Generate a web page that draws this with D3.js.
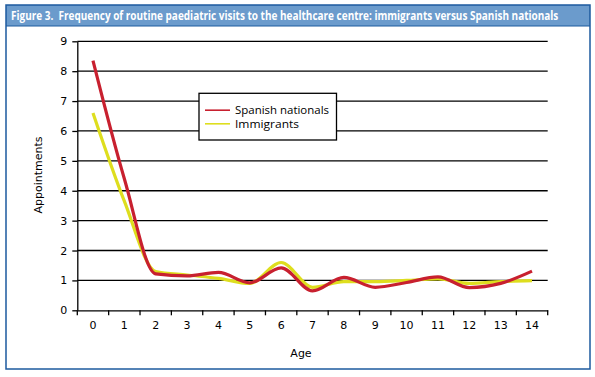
<!DOCTYPE html>
<html><head><meta charset="utf-8">
<script src="https://cdn.jsdelivr.net/npm/d3@7"></script>
<style>body{margin:0;background:#fff}svg{display:block}</style>
</head><body>
<svg id="c" width="595" height="377"></svg>
<script>
const ages = [0,1,2,3,4,5,6,7,8,9,10,11,12,13,14];
const spanish = [8.35,4.4,1.22,1.15,1.27,0.92,1.42,0.65,1.1,0.77,0.93,1.12,0.76,0.9,1.31];
const immigrants = [6.6,3.65,1.3,1.18,1.07,0.9,1.6,0.77,0.96,0.96,1.0,1.05,0.9,0.96,0.99];
const yTicks = [0,1,2,3,4,5,6,7,8,9];
const seriesNames = ["Spanish nationals","Immigrants"];
const seriesColors = ["#c8202f","#dede1e"];
const title = "Figure 3.\u00A0 Frequency of routine paediatric visits to the healthcare centre: immigrants versus Spanish nationals";

const svg = d3.select("#c");
const frame = "#1d5a9e";
// frame
svg.append("rect").attr("x",6).attr("y",5).attr("width",584).attr("height",21).attr("fill","#6b9bcc");
svg.append("rect").attr("x",6).attr("y",5).attr("width",584).attr("height",364)
  .attr("fill","none").attr("stroke",frame).attr("stroke-width",1.5);
svg.append("line").attr("x1",6).attr("x2",590).attr("y1",26).attr("y2",26).attr("stroke",frame).attr("stroke-width",1);
const tt = svg.append("text").attr("x",0).attr("y",0).attr("fill","#fff")
  .attr("font-family","Open Sans, sans-serif").attr("font-weight","bold").attr("font-size",12).text(title);
const natW = tt.node().getComputedTextLength();
tt.attr("transform",`translate(11,19.8) scale(${548/natW},1)`);

const x = d3.scaleBand().domain(ages).range([77.3,547.7]);
const y = d3.scaleLinear().domain([0,9]).range([310.3,41.3]);

// gridlines
svg.append("g").selectAll("line").data(yTicks.slice(1)).join("line")
  .attr("x1",77.3).attr("x2",547.7).attr("y1",d=>y(d)).attr("y2",d=>y(d))
  .attr("stroke","#000").attr("stroke-width",1.3);

const fontAx = "DejaVu Sans, Verdana, sans-serif";
// y axis
const ya = svg.append("g").attr("transform","translate(77.3,0)")
  .call(d3.axisLeft(y).tickValues(yTicks).tickSize(5).tickSizeOuter(0).tickPadding(5));
ya.select(".domain").attr("stroke","#000").attr("stroke-width",1.3);
ya.selectAll(".tick line").attr("stroke","#000").attr("stroke-width",1.3);
ya.selectAll("text").attr("font-family",fontAx).attr("font-size",11).attr("fill","#000");

// x axis
const xa = svg.append("g").attr("transform","translate(0,310.3)")
  .call(d3.axisBottom(x).tickSize(0).tickPadding(11));
xa.select(".domain").attr("stroke","#000").attr("stroke-width",1.3);
xa.selectAll("text").attr("font-family",fontAx).attr("font-size",11).attr("fill","#000");
// tick marks at band boundaries
const bounds = ages.map(a=>x(a)).concat([x(ages[ages.length-1])+x.bandwidth()]);
svg.append("g").selectAll("line").data(bounds).join("line")
  .attr("x1",d=>d).attr("x2",d=>d).attr("y1",310.3).attr("y2",315.3)
  .attr("stroke","#000").attr("stroke-width",1.3);

// axis titles
svg.append("text").attr("transform","translate(42,175) rotate(-90)").attr("text-anchor","middle")
  .attr("font-family",fontAx).attr("font-size",11).text("Appointments");
svg.append("text").attr("x",301).attr("y",357).attr("text-anchor","middle")
  .attr("font-family",fontAx).attr("font-size",11).text("Age");

// lines
const line = d3.line().x((d,i)=>x(ages[i])+x.bandwidth()/2).y(d=>y(d)).curve(d3.curveMonotoneX);
[[immigrants, seriesColors[1]], [spanish, seriesColors[0]]].forEach(([s,c])=>{
  svg.append("path").attr("d",line(s)).attr("fill","none").attr("stroke",c)
    .attr("stroke-width",3.2).attr("stroke-linejoin","round");
});

// legend
const lg = svg.append("g");
lg.append("rect").attr("x",199).attr("y",93.3).attr("width",137.5).attr("height",46.7)
  .attr("fill","#fff").attr("stroke","#000").attr("stroke-width",1.3);
seriesNames.forEach((n,i)=>{
  const yy = 110.2 + i*13.6;
  lg.append("line").attr("x1",205).attr("x2",230).attr("y1",yy).attr("y2",yy)
    .attr("stroke",seriesColors[i]).attr("stroke-width",1.6);
  lg.append("text").attr("x",235).attr("y",yy+3.8).attr("font-family","Open Sans, sans-serif")
    .attr("font-size",10.5).attr("textLength", i===0?94:64).attr("lengthAdjust","spacingAndGlyphs").text(n);
});
</script>
</body></html>
